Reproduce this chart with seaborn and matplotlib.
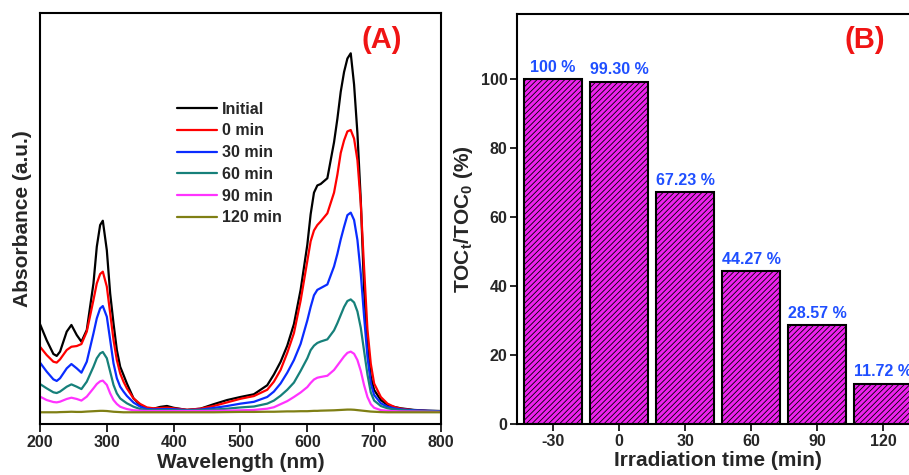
import numpy as np
import pandas as pd
import matplotlib
matplotlib.use("Agg")  # headless
import matplotlib.pyplot as plt
import seaborn as sns

# ─── Panel A: UV-vis spectra ──────────────────────────────────────────────────
WAVELENGTH = [200, 210, 220, 225, 230, 240, 247, 255, 262, 270,
              280, 285, 290, 294, 300, 305, 310, 315, 320, 325,
              330, 340, 350, 360, 370, 380, 390, 400, 420, 440,
              460, 480, 500, 520, 540, 550, 560, 570, 580, 590,
              600, 605, 610, 615, 620, 630, 640, 645, 650, 655,
              660, 665, 670, 675, 680, 685, 690, 695, 700, 710,
              720, 730, 740, 760, 780, 800]

ABS_INITIAL = [0.49, 0.40, 0.324, 0.313, 0.337, 0.448, 0.485, 0.429, 0.392, 0.457,
               0.716, 0.92, 1.04, 1.064, 0.90, 0.66, 0.494, 0.346, 0.253, 0.207,
               0.16, 0.077, 0.04, 0.022, 0.02, 0.03, 0.035, 0.025, 0.013, 0.02,
               0.045, 0.068, 0.085, 0.10, 0.15, 0.21, 0.28, 0.37, 0.49, 0.68,
               0.93, 1.10, 1.22, 1.26, 1.268, 1.30, 1.50, 1.63, 1.78, 1.89,
               1.965, 1.994, 1.82, 1.55, 1.18, 0.68, 0.365, 0.198, 0.124, 0.068,
               0.04, 0.03, 0.022, 0.013, 0.009, 0.007]

ABS_0MIN = [0.364, 0.318, 0.281, 0.276, 0.294, 0.346, 0.364, 0.368, 0.379, 0.448,
            0.624, 0.716, 0.768, 0.781, 0.698, 0.55, 0.402, 0.29, 0.216, 0.17,
            0.133, 0.077, 0.046, 0.027, 0.022, 0.024, 0.026, 0.022, 0.014, 0.02,
            0.035, 0.055, 0.075, 0.09, 0.125, 0.17, 0.235, 0.33, 0.44, 0.62,
            0.84, 0.95, 1.01, 1.04, 1.06, 1.105, 1.22, 1.32, 1.44, 1.51,
            1.56, 1.568, 1.52, 1.40, 1.16, 0.80, 0.46, 0.27, 0.16, 0.085,
            0.048, 0.03, 0.02, 0.011, 0.007, 0.005]

ABS_30MIN = [0.276, 0.226, 0.183, 0.174, 0.189, 0.244, 0.268, 0.244, 0.22, 0.281,
             0.438, 0.522, 0.577, 0.59, 0.531, 0.402, 0.272, 0.189, 0.142, 0.115,
             0.091, 0.054, 0.031, 0.018, 0.016, 0.017, 0.018, 0.017, 0.012, 0.015,
             0.024, 0.035, 0.048, 0.058, 0.085, 0.115, 0.16, 0.22, 0.29, 0.38,
             0.51, 0.585, 0.65, 0.68, 0.69, 0.71, 0.81, 0.88, 0.96, 1.03,
             1.095, 1.109, 1.068, 0.957, 0.772, 0.531, 0.309, 0.161, 0.096, 0.05,
             0.031, 0.022, 0.016, 0.011, 0.008, 0.006]

ABS_60MIN = [0.157, 0.133, 0.111, 0.107, 0.115, 0.142, 0.155, 0.142, 0.129, 0.17,
             0.253, 0.30, 0.327, 0.335, 0.30, 0.226, 0.152, 0.105, 0.077, 0.063,
             0.05, 0.031, 0.018, 0.013, 0.012, 0.012, 0.013, 0.012, 0.01, 0.012,
             0.015, 0.02, 0.027, 0.032, 0.048, 0.065, 0.092, 0.125, 0.165, 0.23,
             0.30, 0.345, 0.37, 0.385, 0.393, 0.405, 0.455, 0.495, 0.54, 0.585,
             0.618, 0.627, 0.61, 0.56, 0.47, 0.34, 0.21, 0.11, 0.065, 0.035,
             0.022, 0.016, 0.012, 0.008, 0.006, 0.004]

ABS_90MIN = [0.087, 0.068, 0.057, 0.055, 0.059, 0.074, 0.081, 0.074, 0.065, 0.087,
             0.133, 0.157, 0.172, 0.176, 0.152, 0.105, 0.068, 0.046, 0.031, 0.024,
             0.018, 0.011, 0.009, 0.007, 0.007, 0.007, 0.007, 0.007, 0.007, 0.007,
             0.008, 0.009, 0.011, 0.013, 0.02, 0.028, 0.045, 0.062, 0.085, 0.11,
             0.14, 0.163, 0.182, 0.192, 0.196, 0.203, 0.235, 0.26, 0.285, 0.31,
             0.33, 0.337, 0.325, 0.29, 0.23, 0.15, 0.085, 0.045, 0.025, 0.012,
             0.008, 0.006, 0.005, 0.004, 0.003, 0.002]

ABS_120MIN = [0.0, 0.0, 0.0, 0.0, 0.001, 0.002, 0.003, 0.002, 0.002, 0.004,
              0.006, 0.007, 0.008, 0.008, 0.007, 0.005, 0.003, 0.002, 0.001, 0.0,
              0.0, 0.0, 0.0, 0.0, 0.0, 0.0, 0.0, 0.0, 0.0, 0.0,
              0.0, 0.001, 0.002, 0.002, 0.003, 0.003, 0.004, 0.005, 0.005, 0.006,
              0.006, 0.007, 0.008, 0.008, 0.009, 0.01, 0.011, 0.012, 0.013, 0.014,
              0.015, 0.015, 0.014, 0.012, 0.01, 0.008, 0.006, 0.004, 0.003, 0.001,
              0.0, 0.0, 0.0, 0.0, 0.0, 0.0]

SERIES = ["Initial", "0 min", "30 min", "60 min", "90 min", "120 min"]
SPECTRA = [ABS_INITIAL, ABS_0MIN, ABS_30MIN, ABS_60MIN, ABS_90MIN, ABS_120MIN]
LINE_COLOURS = ["#000000", "#ff0000", "#0a2cff", "#16807a", "#ff33ff", "#7f7f14"]

# ─── Panel B: TOC removal ─────────────────────────────────────────────────────
TOC_TIME = ["-30", "0", "30", "60", "90", "120"]
TOC_PCT = [100.0, 99.30, 67.23, 44.27, 28.57, 11.72]
TOC_LABELS = ["100 %", "99.30 %", "67.23 %", "44.27 %", "28.57 %", "11.72 %"]

# ─── Style ────────────────────────────────────────────────────────────────────
sns.set_style("ticks")
plt.rcParams["font.family"] = ["Liberation Sans", "DejaVu Sans"]
plt.rcParams["font.weight"] = "bold"
plt.rcParams["axes.labelweight"] = "bold"
plt.rcParams["mathtext.fontset"] = "custom"
plt.rcParams["mathtext.rm"] = "Liberation Sans:bold"
plt.rcParams["mathtext.it"] = "Liberation Sans:bold"
plt.rcParams["mathtext.default"] = "rm"
plt.rcParams["hatch.linewidth"] = 0.6

TICK_FS = 11.5
LABEL_FS = 15

fig = plt.figure(figsize=(9.09, 4.75), dpi=100)
ax_a = fig.add_axes([0.044, 0.1074, 0.4411, 0.8653])
ax_b = fig.add_axes([0.5688, 0.1074, 0.4422, 0.8638])

# ── Panel A ──
spectra = pd.DataFrame({
    "Wavelength": WAVELENGTH * len(SERIES),
    "Absorbance": sum(SPECTRA, []),
    "Sample": np.repeat(SERIES, len(WAVELENGTH)),
})
sns.lineplot(data=spectra, x="Wavelength", y="Absorbance", hue="Sample",
             hue_order=SERIES, palette=LINE_COLOURS, estimator=None,
             sort=False, linewidth=1.6, legend=False, ax=ax_a)
ax_a.set_xlim(200, 800)
ax_a.set_ylim(-0.065, 2.218)
ax_a.set_xticks([200, 300, 400, 500, 600, 700, 800])
ax_a.set_yticks([])
ax_a.set_xlabel("Wavelength (nm)", fontsize=LABEL_FS, labelpad=2)
ax_a.set_ylabel("Absorbance (a.u.)", fontsize=LABEL_FS, labelpad=6)
ax_a.tick_params(axis="x", direction="out", length=6, width=1.4,
                 labelsize=TICK_FS, pad=2)
ax_a.legend(ax_a.get_lines()[:len(SERIES)], SERIES, frameon=False,
            loc="upper left", bbox_to_anchor=(0.342, 0.784), borderaxespad=0,
            borderpad=0, handlelength=2.5, handletextpad=0.3,
            labelspacing=0.42, prop={"size": 11.5, "weight": "bold"})
ax_a.text(0.852, 0.935, "(A)", transform=ax_a.transAxes, color="#f01414",
          fontsize=21, fontweight="bold", ha="center", va="center")

# ── Panel B ──
toc = pd.DataFrame({"Time": TOC_TIME, "TOC": TOC_PCT})
sns.barplot(data=toc, x="Time", y="TOC", color="#ee22ee", saturation=1,
            width=0.89, edgecolor="black", linewidth=1.5, hatch="//////",
            ax=ax_b)
for bar, lab in zip(ax_b.patches, TOC_LABELS):
    ax_b.annotate(lab, (bar.get_x() + bar.get_width() / 2, bar.get_height()),
                  xytext=(0, 3), textcoords="offset points", ha="center",
                  va="bottom", color="#1f4fff", fontsize=TICK_FS,
                  fontweight="bold", annotation_clip=False)
ax_b.set_xlim(-0.545, 5.545)
ax_b.set_ylim(0, 119)
ax_b.set_yticks([0, 20, 40, 60, 80, 100])
ax_b.set_xlabel("Irradiation time (min)", fontsize=LABEL_FS, labelpad=2)
ax_b.set_ylabel(r"TOC$_t$/TOC$_0$ (%)", fontsize=LABEL_FS, labelpad=4)
ax_b.tick_params(axis="both", direction="out", length=5, width=1.4,
                 labelsize=TICK_FS, pad=2)
ax_b.text(0.865, 0.935, "(B)", transform=ax_b.transAxes, color="#f01414",
          fontsize=21, fontweight="bold", ha="center", va="center")

for ax in (ax_a, ax_b):
    for side in ("top", "right", "bottom", "left"):
        ax.spines[side].set_visible(True)
        ax.spines[side].set_linewidth(1.5)
        ax.spines[side].set_color("black")

fig.savefig("out.png", dpi=100)
